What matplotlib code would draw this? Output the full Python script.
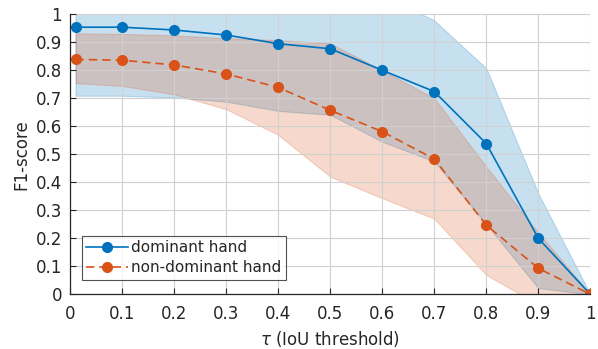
import numpy as np
import matplotlib
matplotlib.use("Agg")
import matplotlib.pyplot as plt

plt.rcParams['font.family'] = ['DejaVu Sans']
plt.rcParams['mathtext.fontset'] = 'dejavusans'

# IoU thresholds
tau = [0.01, 0.1, 0.2, 0.3, 0.4, 0.5, 0.6, 0.7, 0.8, 0.9, 1.0]

# dominant hand: mean and band
dom_mean = [0.954, 0.954, 0.944, 0.926, 0.895, 0.877, 0.800, 0.724, 0.538, 0.200, 0.0]
dom_low = [0.709, 0.709, 0.703, 0.688, 0.655, 0.641, 0.545, 0.474, 0.250, 0.022, 0.0]
dom_high = [1.20, 1.20, 1.19, 1.16, 1.14, 1.12, 1.07, 0.978, 0.807, 0.360, 0.0]

# non-dominant hand: mean and band
non_mean = [0.839, 0.836, 0.819, 0.787, 0.739, 0.657, 0.581, 0.483, 0.247, 0.093, 0.0]
non_low = [0.754, 0.744, 0.714, 0.661, 0.569, 0.420, 0.343, 0.270, 0.069, -0.037, 0.0]
non_high = [0.932, 0.930, 0.925, 0.915, 0.908, 0.896, 0.800, 0.700, 0.456, 0.220, 0.0]

blue = '#0072BD'
orange = '#D95319'
txt = '#262626'

fig = plt.figure(figsize=(5.98, 3.49), dpi=100)
ax = fig.add_axes([0.1176, 0.1567, 0.8696, 0.8023])

ax.fill_between(tau, dom_low, dom_high, facecolor=blue, alpha=0.22,
                edgecolor=blue, linewidth=0.8, zorder=2)
ax.fill_between(tau, non_low, non_high, facecolor=orange, alpha=0.22,
                edgecolor=orange, linewidth=0.8, zorder=2)

ax.plot(tau, dom_mean, '-o', color=blue, lw=1.2, ms=7, label='dominant hand', zorder=4)
ax.plot(tau, non_mean, '--o', color=orange, lw=1.2, ms=7, dashes=(5, 3),
        label='non-dominant hand', zorder=4)

ax.set_xlim(0, 1)
ax.set_ylim(0, 1)
ticks = np.round(np.arange(0, 1.01, 0.1), 1)
ticklabels = ['0' if t == 0 else '1' if t == 1 else f'{t:g}' for t in ticks]
ax.set_xticks(ticks)
ax.set_xticklabels(ticklabels)
ax.set_yticks(ticks)
ax.set_yticklabels(ticklabels)

ax.grid(True, color='#d0d0d0', lw=0.8, zorder=1)
ax.set_axisbelow(False)
for s in ['top', 'right']:
    ax.spines[s].set_visible(False)
for s in ['left', 'bottom']:
    ax.spines[s].set_color(txt)
    ax.spines[s].set_linewidth(0.9)
    ax.spines[s].set_zorder(5)
ax.tick_params(direction='in', length=4, width=0.8, colors=txt, labelsize=12,
               labelcolor=txt)
ax.tick_params(axis='x', pad=8)
ax.tick_params(axis='y', pad=6)

ax.set_xlabel(r'$\tau$ (IoU threshold)', fontsize=12, color=txt, labelpad=4)
ax.set_ylabel('F1-score', fontsize=12, color=txt, labelpad=4)

leg = ax.legend(loc='lower left', bbox_to_anchor=(0.022, 0.051), fontsize=11,
                frameon=True, fancybox=False, edgecolor='#262626',
                handlelength=2.7, handletextpad=0.25, borderpad=0.3,
                labelspacing=0.35, borderaxespad=0)
leg.get_frame().set_linewidth(0.8)
for t in leg.get_texts():
    t.set_color(txt)

fig.savefig('out.png', dpi=100)
